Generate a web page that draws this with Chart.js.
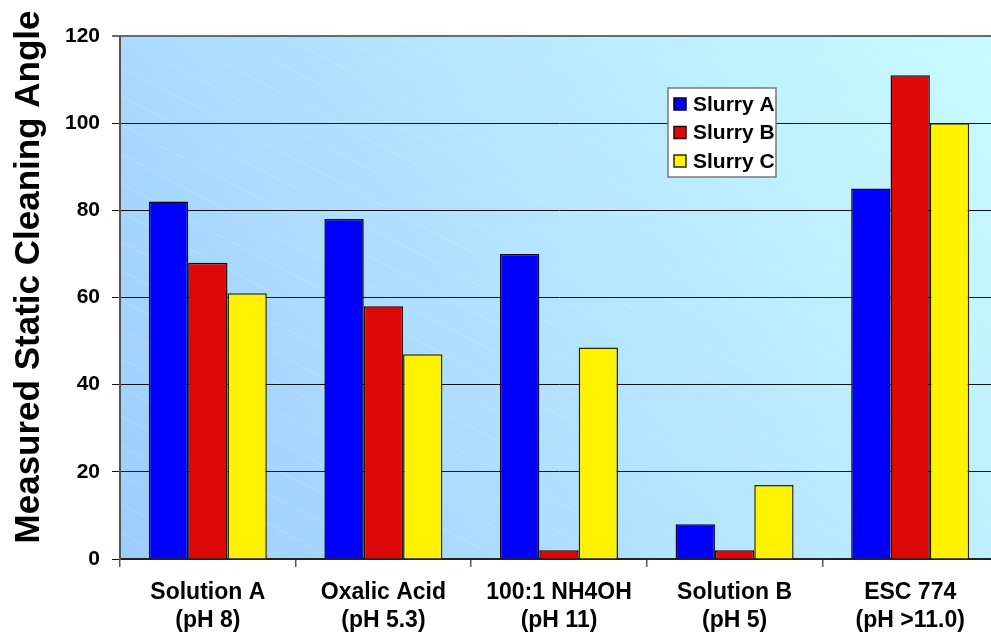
<!DOCTYPE html>
<html>
<head>
<meta charset="utf-8">
<script src="https://cdn.jsdelivr.net/npm/chart.js@4.4.0/dist/chart.umd.min.js"></script>
<style>
  html, body { margin: 0; padding: 0; background: #ffffff; overflow: hidden; }
  #wrap { width: 1000px; height: 636px; }
</style>
</head>
<body>
<div id="wrap"><canvas id="c" width="1000" height="636"></canvas></div>
<script>
// Cleaning solutions (two-line category labels)
const categories = [
  ['Solution A', '(pH 8)'],
  ['Oxalic Acid', '(pH 5.3)'],
  ['100:1 NH4OH', '(pH 11)'],
  ['Solution B', '(pH 5)'],
  ['ESC 774', '(pH >11.0)']
];
const seriesNames = ['Slurry A', 'Slurry B', 'Slurry C'];
const slurryA = [82, 78, 70, 8, 85];
const slurryB = [68, 58, 2, 2, 111];
const slurryC = [61, 47, 48.5, 17, 100];
const yTicks = [0, 20, 40, 60, 80, 100, 120];
const yTitle = 'Measured Static Cleaning Angle';

const fillColors = ['#0000ff', '#dd0808', '#fff200'];
const edgeColors = ['#000022', '#2a0000', '#2a2a00'];
const FONT = 'Arial, "Liberation Sans", Helvetica, sans-serif';

// Gradient backdrop with faint diagonal streaks inside the plot area
const backdrop = {
  id: 'backdrop',
  beforeDraw(chart) {
    const { ctx, chartArea: a } = chart;
    ctx.save();
    const g = ctx.createLinearGradient(a.left, a.bottom, a.right, a.top);
    g.addColorStop(0, '#9ccdfd');
    g.addColorStop(0.5, '#b5e4ff');
    g.addColorStop(1, '#c8fbff');
    ctx.fillStyle = g;
    ctx.fillRect(a.left, a.top, a.right - a.left, a.bottom - a.top);
    ctx.beginPath();
    ctx.rect(a.left, a.top, a.right - a.left, a.bottom - a.top);
    ctx.clip();
    ctx.strokeStyle = 'rgba(255,255,255,0.22)';
    ctx.lineWidth = 0.8;
    const slope = 0.53;
    const h = a.bottom - a.top;
    for (let x0 = a.left - h / slope - 60; x0 < a.right; x0 += 55) {
      ctx.beginPath();
      ctx.moveTo(x0, a.top);
      ctx.lineTo(x0 + h / slope, a.bottom);
      ctx.stroke();
    }
    ctx.restore();
  }
};

// Rotated axis title and boxed legend
const overlay = {
  id: 'overlay',
  afterDraw(chart) {
    const { ctx } = chart;
    ctx.save();
    ctx.translate(29, 277);
    ctx.rotate(-Math.PI / 2);
    ctx.fillStyle = '#000';
    ctx.font = 'bold 35px ' + FONT;
    ctx.textAlign = 'center';
    ctx.textBaseline = 'middle';
    ctx.fillText(yTitle, 0, 0);
    ctx.restore();

    ctx.save();
    const bx = 668, by = 88, bw = 108, bh = 89;
    ctx.fillStyle = '#ffffff';
    ctx.fillRect(bx, by, bw, bh);
    ctx.strokeStyle = '#777';
    ctx.lineWidth = 1.5;
    ctx.strokeRect(bx, by, bw, bh);
    ctx.font = 'bold 21px ' + FONT;
    ctx.textBaseline = 'middle';
    ctx.textAlign = 'left';
    chart.data.datasets.forEach((ds, i) => {
      const cy = 104 + i * 28.5;
      ctx.fillStyle = ds.backgroundColor;
      ctx.fillRect(674, cy - 6, 12, 12);
      ctx.strokeStyle = ds.borderColor;
      ctx.lineWidth = 1.5;
      ctx.strokeRect(674, cy - 6, 12, 12);
      ctx.fillStyle = '#000';
      ctx.fillText(ds.label, 693, cy + 1);
    });
    ctx.restore();
  }
};

const datasets = [slurryA, slurryB, slurryC].map((vals, i) => ({
  label: seriesNames[i],
  data: vals,
  backgroundColor: fillColors[i],
  borderColor: edgeColors[i],
  borderWidth: 1.5,
  borderSkipped: 'bottom',
  categoryPercentage: 0.672,
  barPercentage: 1.0
}));

new Chart(document.getElementById('c'), {
  type: 'bar',
  data: { labels: categories, datasets },
  plugins: [backdrop, overlay],
  options: {
    responsive: false,
    animation: false,
    layout: { padding: { left: 0, top: 36, right: 2, bottom: 0 } },
    plugins: { legend: { display: false }, tooltip: { enabled: false } },
    scales: {
      x: {
        offset: true,
        grid: {
          offset: true,
          drawOnChartArea: false,
          drawTicks: true,
          tickLength: 8,
          color: '#555',
          lineWidth: 1.5
        },
        border: { display: true, color: '#222', width: 2 },
        ticks: {
          color: '#000',
          font: { family: FONT, size: 23, weight: 'bold', lineHeight: 1.22 },
          padding: 12,
          maxRotation: 0,
          autoSkip: false
        },
        afterFit(scale) { scale.height = 77; }
      },
      y: {
        min: 0,
        max: 120,
        afterBuildTicks(scale) { scale.ticks = yTicks.map(v => ({ value: v })); },
        grid: {
          drawTicks: true,
          tickLength: 8,
          color: ctx => (ctx.tick && ctx.tick.value === 120) ? '#6a6a6a' : '#111',
          lineWidth: ctx => (ctx.tick && ctx.tick.value === 120) ? 2 : 1
        },
        border: { display: true, color: '#555', width: 2 },
        ticks: {
          color: '#000',
          font: { family: FONT, size: 21, weight: 'bold' },
          padding: 12
        },
        afterFit(scale) { scale.width = 120; }
      }
    }
  }
});
</script>
</body>
</html>
